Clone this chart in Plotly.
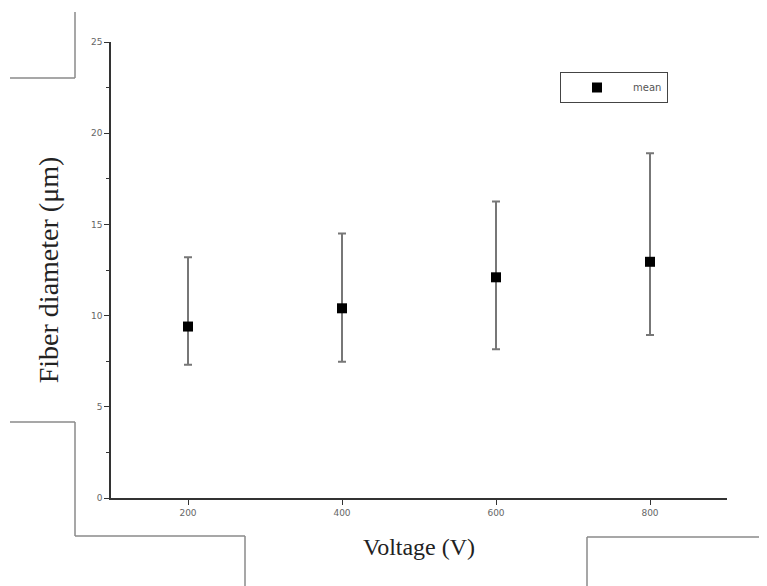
import plotly.graph_objects as go

voltage = [200, 400, 600, 800]
mean_diam = [9.4, 10.4, 12.1, 12.95]
err_upper = [13.2, 14.5, 16.25, 18.9]
err_lower = [7.3, 7.47, 8.15, 8.94]

plus = [u - m for u, m in zip(err_upper, mean_diam)]
minus = [m - l for m, l in zip(mean_diam, err_lower)]

fig = go.Figure()
fig.add_trace(go.Scatter(
    x=voltage, y=mean_diam, mode="markers", name="mean",
    marker=dict(symbol="square", size=10, color="black"),
    error_y=dict(type="data", symmetric=False, array=plus, arrayminus=minus,
                 color="#777777", thickness=2, width=4),
))

line_col = "#8a8a8a"
segs = [
    (75, 12, 75, 78), (10, 78, 75, 78),
    (10, 422, 75, 422), (75, 422, 75, 536), (75, 536, 245, 536), (245, 536, 245, 586),
    (587, 537, 587, 586), (587, 537, 767, 537),
]
shapes = []
for x0, y0, x1, y1 in segs:
    shapes.append(dict(type="line", xref="paper", yref="paper",
                       x0=(x0 - 111) / 616, x1=(x1 - 111) / 616,
                       y0=(498 - y0) / 456, y1=(498 - y1) / 456,
                       line=dict(color=line_col, width=1.5), layer="below"))

fig.update_layout(
    width=767, height=586,
    margin=dict(l=103, r=48, t=34, b=96),
    paper_bgcolor="white", plot_bgcolor="white",
    showlegend=True,
    legend=dict(x=(560 - 111) / 616, y=(498 - 72) / 456, xanchor="left", yanchor="top",
                bordercolor="#444444", borderwidth=1, bgcolor="white",
                itemwidth=62, tracegroupgap=0,
                font=dict(family="DejaVu Sans", size=10, color="#555555")),
    shapes=shapes,
    xaxis=dict(range=[100, 900], tickvals=voltage, ticks="outside", ticklen=5,
               tickcolor="#333", showline=True, linecolor="#333", linewidth=1.5,
               showgrid=False, zeroline=False,
               tickfont=dict(family="DejaVu Sans", size=9, color="#666"),
               title=dict(text="Voltage (V)", font=dict(family="Liberation Serif", size=24, color="#222"), standoff=22)),
    yaxis=dict(range=[0, 25], tickvals=[0, 5, 10, 15, 20, 25], ticks="outside", ticklen=5,
               tickcolor="#333", showline=True, linecolor="#333", linewidth=1.5,
               showgrid=False, zeroline=False,
               minor=dict(tickvals=[2.5, 7.5, 12.5, 17.5, 22.5], ticks="outside", ticklen=3, tickcolor="#333"),
               tickfont=dict(family="DejaVu Sans", size=9, color="#666"),
               title=dict(text="Fiber diameter (μm)", font=dict(family="Liberation Serif", size=28, color="#222"), standoff=24)),
)
fig.write_html("out.html")
